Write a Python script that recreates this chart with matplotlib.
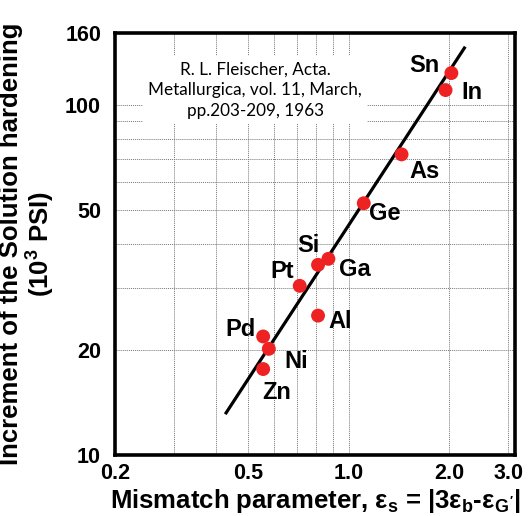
import matplotlib
matplotlib.use("Agg")
import matplotlib.pyplot as plt
from matplotlib.ticker import NullFormatter

plt.rcParams['font.family'] = ['Liberation Sans', 'DejaVu Sans']
plt.rcParams['mathtext.fontset'] = 'custom'
plt.rcParams['mathtext.rm'] = 'Liberation Sans:bold'
plt.rcParams['mathtext.it'] = 'Liberation Sans:bold'
plt.rcParams['mathtext.bf'] = 'Liberation Sans:bold'

# data
elements = ['Sn', 'In', 'As', 'Ge', 'Si', 'Ga', 'Pt', 'Al', 'Pd', 'Ni', 'Zn']
mismatch = [2.03, 1.95, 1.44, 1.11, 0.81, 0.87, 0.714, 0.81, 0.555, 0.577, 0.555]
hardening = [123, 110, 72.1, 52.3, 34.9, 36.3, 30.4, 25.0, 21.8, 20.1, 17.6]
label_offsets = [(-27, 8), (26, -2), (23, -17), (21, -10), (-10, 19), (26, -11),
                 (-18, 14), (22, -6), (-23, 7), (27, -13), (14, -23)]

fit_x = [0.43, 2.22]
fit_y = [13.2, 145]

x_ticks = [0.2, 0.5, 1.0, 2.0, 3.0]
x_minor = [0.3, 0.4, 0.6, 0.7, 0.8, 0.9]
y_ticks = [10, 20, 50, 100, 160]
y_minor = [30, 40, 60, 70, 80, 90]

fig = plt.figure(figsize=(5.3, 5.16), dpi=100)
ax = fig.add_axes([0.217, 0.118, 0.755, 0.818])
ax.set_xscale('log')
ax.set_yscale('log')
ax.set_xlim(0.2, 3.15)
ax.set_ylim(10, 160)

ax.set_xticks(x_ticks)
ax.set_xticklabels(['%.1f' % v for v in x_ticks])
ax.set_xticks(x_minor, minor=True)
ax.set_yticks(y_ticks)
ax.set_yticklabels([str(v) for v in y_ticks])
ax.set_yticks(y_minor, minor=True)
ax.xaxis.set_minor_formatter(NullFormatter())
ax.yaxis.set_minor_formatter(NullFormatter())
ax.tick_params(which='both', length=0)
ax.tick_params(axis='x', pad=6, labelsize=15.5)
ax.tick_params(axis='y', pad=10, labelsize=15.5)
for lab in ax.get_xticklabels() + ax.get_yticklabels():
    lab.set_fontweight('bold')

ax.grid(True, which='both', color='#777777', linestyle=(0, (1, 1)), linewidth=0.7)
for s in ax.spines.values():
    s.set_linewidth(2.6)

ax.plot(fit_x, fit_y, color='black', linewidth=2.3, zorder=3)
ax.scatter(mismatch, hardening, s=100, color='#ee2222', edgecolor='none', zorder=4)

for name, x, y, off in zip(elements, mismatch, hardening, label_offsets):
    ax.annotate(name, (x, y), xytext=off, textcoords='offset pixels',
                ha='center', va='center', fontsize=17, fontweight='bold', zorder=5)

ax.text(0.35, 0.865, 'R. L. Fleischer, Acta.\nMetallurgica, vol. 11, March,\npp.203-209, 1963',
        transform=ax.transAxes, ha='center', va='center', fontsize=12.3,
        family='Lato', linespacing=1.35, zorder=2,
        bbox=dict(facecolor='white', edgecolor='none', boxstyle='square,pad=0.3'))

ax.set_xlabel(r"Mismatch parameter, ε$_{s}$ = |3ε$_{b}$-ε$_{G'}$|",
              fontsize=18.5, fontweight='bold', labelpad=2)
ax.set_ylabel('Increment of the Solution hardening\n(10$^{3}$ PSI)',
              fontsize=18.5, fontweight='bold', labelpad=6, linespacing=1.05)

fig.savefig('out.png', dpi=100)
